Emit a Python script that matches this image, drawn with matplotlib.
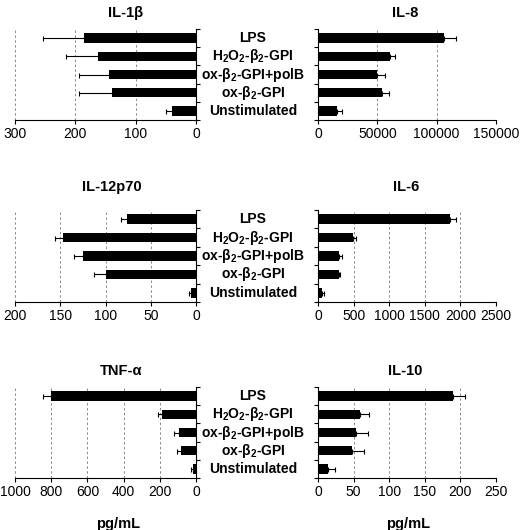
import matplotlib
matplotlib.use('Agg')
import matplotlib.pyplot as plt
import matplotlib.transforms as mtransforms
import numpy as np

plt.rcParams['font.family'] = ['Liberation Sans', 'DejaVu Sans']
plt.rcParams['mathtext.fontset'] = 'custom'
plt.rcParams['mathtext.rm'] = 'Liberation Sans:bold'
plt.rcParams['mathtext.default'] = 'rm'

# data (mean, upper error)
categories = ['LPS', r'H$_2$O$_2$-β$_2$-GPI', r'ox-β$_2$-GPI+polB', r'ox-β$_2$-GPI', 'Unstimulated']

il1b = [186, 163, 145, 139, 39]
il1b_err = [68, 53, 49, 55, 11]
il8 = [105900, 60400, 49700, 54000, 16000]
il8_err = [10400, 4200, 6500, 5500, 4200]
il12 = [76, 147, 125, 100, 5]
il12_err = [7, 9, 10, 13, 2.5]
il6 = [1854, 494, 295, 290, 55]
il6_err = [79, 46, 46, 23, 23]
tnf = [802, 187, 94, 83, 15]
tnf_err = [41, 22, 26, 24, 13]
il10 = [190, 59, 54, 48, 14]
il10_err = [16, 13, 16, 16, 10]

W, H = 520, 530
fig = plt.figure(figsize=(W / 100, H / 100), dpi=100)


def px_axes(x0, x1, y0, y1):
    return fig.add_axes([x0 / W, 1 - y1 / H, (x1 - x0) / W, (y1 - y0) / H])


def panel(ax, vals, errs, xmax, step, side):
    y = np.arange(len(vals))
    ax.set_axisbelow(True)
    ax.barh(y, vals, height=0.52, color='black', zorder=2)
    ax.errorbar(vals, y, xerr=[np.zeros(len(vals)), errs], fmt='none',
                ecolor='black', elinewidth=0.8, capsize=1.8, capthick=0.8, zorder=3)
    ax.set_ylim(len(vals) - 0.5, -0.5)
    ax.set_xlim(0, xmax)
    ax.set_xticks(np.arange(0, xmax + step / 2, step))
    ax.set_yticks(np.arange(-0.5, len(vals), 1.0))
    ax.set_yticklabels([])
    ax.grid(axis='x', color='#888888', linestyle=(0, (2.5, 2.5)), linewidth=0.7)
    ax.tick_params(axis='x', labelsize=10, length=3, width=0.8, pad=2)
    ax.tick_params(axis='y', length=3, width=0.8)
    ax.spines['top'].set_visible(False)
    if side == 'left':
        ax.invert_xaxis()
        ax.spines['left'].set_visible(False)
        ax.yaxis.tick_right()
    else:
        ax.spines['right'].set_visible(False)
    for s in ax.spines.values():
        s.set_linewidth(0.8)


rows = [(29, 120), (210, 302), (387, 478)]
left_data = [(il1b, il1b_err, 300, 100, 'IL-1β', 126),
             (il12, il12_err, 200, 50, 'IL-12p70', 112),
             (tnf, tnf_err, 1000, 200, 'TNF-α', 121)]
right_data = [(il8, il8_err, 150000, 50000, 'IL-8', 405),
              (il6, il6_err, 2500, 500, 'IL-6', 406),
              (il10, il10_err, 250, 50, 'IL-10', 405)]
title_y = [13, 187, 371]

for r, (y0, y1) in enumerate(rows):
    vals, errs, xmax, step, title, tx = left_data[r]
    axl = px_axes(15, 196, y0, y1)
    panel(axl, vals, errs, xmax, step, 'left')
    fig.text(tx / W, 1 - title_y[r] / H, title, ha='center', va='center',
             fontsize=10.5, fontweight='bold')

    trans = mtransforms.blended_transform_factory(axl.transAxes, axl.transData)
    for i, lab in enumerate(categories):
        axl.text(1.315, i, lab, transform=trans, ha='center', va='center',
                 fontsize=10, fontweight='bold')

    vals, errs, xmax, step, title, tx = right_data[r]
    axr = px_axes(318, 496, y0, y1)
    panel(axr, vals, errs, xmax, step, 'right')
    fig.text(tx / W, 1 - title_y[r] / H, title, ha='center', va='center',
             fontsize=10.5, fontweight='bold')

fig.text(118 / W, 1 - 524 / H, 'pg/mL', ha='center', va='center',
         fontsize=10.5, fontweight='bold')
fig.text(408 / W, 1 - 524 / H, 'pg/mL', ha='center', va='center',
         fontsize=10.5, fontweight='bold')

fig.savefig('out.png', dpi=100)
